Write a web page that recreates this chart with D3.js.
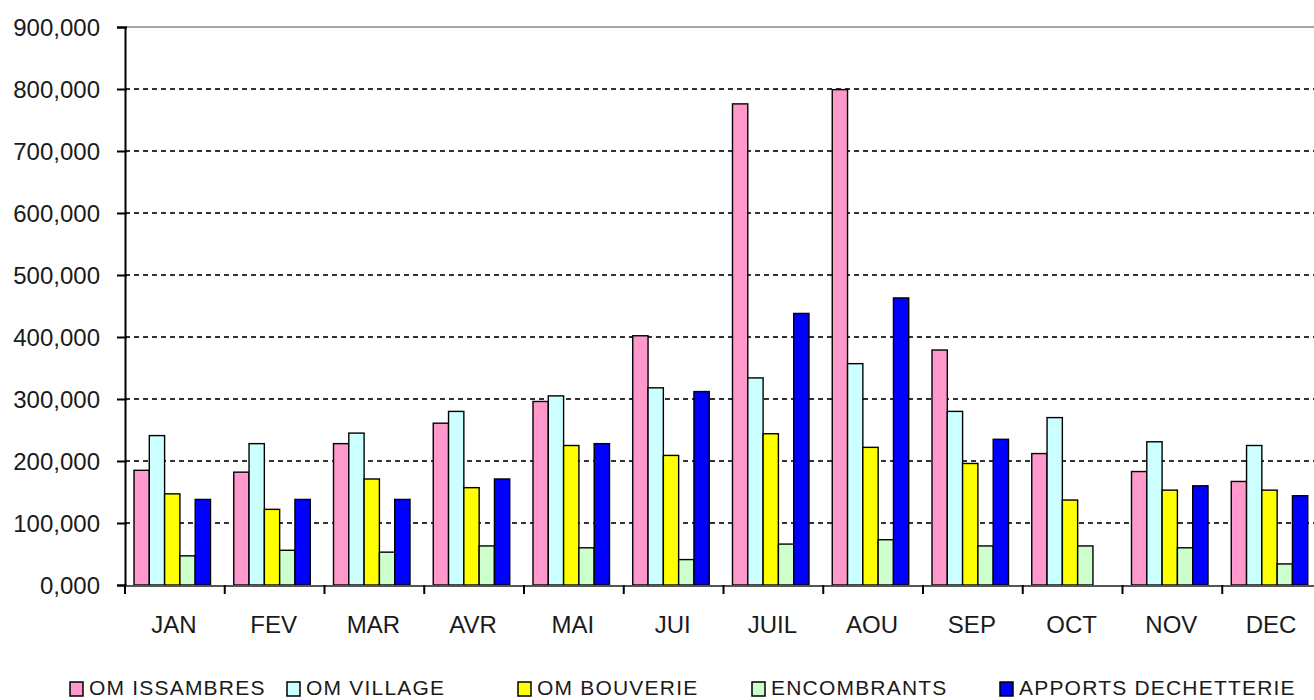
<!DOCTYPE html>
<html>
<head>
<meta charset="utf-8">
<script src="https://cdn.jsdelivr.net/npm/d3@7"></script>
<style>
  html, body { margin: 0; padding: 0; background: #fff; }
  svg { display: block; }
  text { font-family: "Liberation Sans", Arial, sans-serif; fill: #1a1a1a; }
</style>
</head>
<body>
<svg id="chart" width="1314" height="700"></svg>
<script>
// ---- data ----
const months = ["JAN","FEV","MAR","AVR","MAI","JUI","JUIL","AOU","SEP","OCT","NOV","DEC"];
const seriesNames = ["OM ISSAMBRES","OM VILLAGE","OM BOUVERIE","ENCOMBRANTS","APPORTS DECHETTERIE"];
const seriesColors = ["#FF99CC","#CCFFFF","#FFFF00","#CCFFCC","#0000FF"];
const omIssambres = [185, 182, 228, 261, 296, 402, 776, 799, 379, 212, 183, 167];
const omVillage   = [241, 228, 245, 280, 305, 318, 334, 357, 280, 270, 231, 225];
const omBouverie  = [147, 122, 171, 157, 225, 209, 244, 222, 196, 137, 153, 153];
const encombrants = [47, 56, 53, 63, 60, 41, 66, 73, 63, 63, 60, 34];
const apports     = [138, 138, 138, 171, 228, 312, 438, 463, 235, null, 160, 144];
const yTicks = [0,100,200,300,400,500,600,700,800,900];

const seriesValues = [omIssambres, omVillage, omBouverie, encombrants, apports];

const svg = d3.select("#chart");

const y = d3.scaleLinear().domain([0, 900]).range([585, 27]);
const x0 = d3.scaleBand().domain(months).range([125, 1322]).padding(0);
const x1 = d3.scaleBand().domain(seriesNames).range([0, 76.5]).padding(0);
const groupOffset = 9;

// gridlines
svg.append("g").selectAll("line")
  .data(yTicks.filter(t => t > 0 && t < 900))
  .join("line")
  .attr("x1", 125).attr("x2", 1314)
  .attr("y1", d => y(d)).attr("y2", d => y(d))
  .attr("stroke", "#333").attr("stroke-width", 2)
  .attr("stroke-dasharray", "5,4");

// top border
svg.append("line")
  .attr("x1", 125).attr("x2", 1314)
  .attr("y1", y(900)).attr("y2", y(900))
  .attr("stroke", "#8a8a8a").attr("stroke-width", 1.5);

// bars
const bars = [];
months.forEach((m, i) => {
  seriesNames.forEach((s, j) => {
    const v = seriesValues[j][i];
    if (v != null && v > 0) bars.push({ m, s, v, c: seriesColors[j] });
  });
});
svg.append("g").selectAll("rect")
  .data(bars)
  .join("rect")
  .attr("x", d => x0(d.m) + groupOffset + x1(d.s))
  .attr("y", d => y(d.v))
  .attr("width", x1.bandwidth())
  .attr("height", d => y(0) - y(d.v))
  .attr("fill", d => d.c)
  .attr("stroke", "#000")
  .attr("stroke-width", 1.4);

// y axis
const yAxis = d3.axisLeft(y).tickValues(yTicks).tickSize(8).tickPadding(16)
  .tickFormat(d => d3.format(".3f")(d * 1).replace(".", ","));
const gy = svg.append("g").attr("transform", "translate(125,0)").call(yAxis);
gy.select(".domain").attr("stroke", "#000").attr("stroke-width", 2);
gy.selectAll(".tick line").attr("stroke", "#000").attr("stroke-width", 2).attr("x2", -8).attr("x1", 2);
gy.selectAll(".tick text")
  .style("font-family", "'Liberation Sans', Arial, sans-serif")
  .style("font-size", "24px").attr("fill", "#1a1a1a")
  .attr("x", -25).attr("dy", "0.35em");

// x axis
const boundaries = d3.range(0, 13).map(k => 125 + k * x0.step());
svg.append("line").attr("x1", 125).attr("x2", 1314)
  .attr("y1", 586).attr("y2", 586).attr("stroke", "#555").attr("stroke-width", 2);
svg.append("g").selectAll("line").data(boundaries.filter(b => b <= 1314)).join("line")
  .attr("x1", d => d).attr("x2", d => d).attr("y1", 585).attr("y2", 594)
  .attr("stroke", "#000").attr("stroke-width", 2);
svg.append("g").selectAll("text").data(months).join("text")
  .attr("x", d => x0(d) + x0.bandwidth() / 2 - 1)
  .attr("y", 633)
  .attr("text-anchor", "middle")
  .style("font-size", "24px")
  .text(d => d);

// legend
const legendX = [70, 287, 518, 752, 1000];
const lg = svg.append("g").selectAll("g").data(seriesNames).join("g")
  .attr("transform", (d, i) => `translate(${legendX[i]},0)`);
lg.append("rect").attr("x", 0).attr("y", 682).attr("width", 13).attr("height", 14)
  .attr("fill", (d, i) => seriesColors[i]).attr("stroke", "#000").attr("stroke-width", 1.5);
lg.append("text").attr("x", 19).attr("y", 695)
  .style("font-size", "21px").style("letter-spacing", "1.2px").text(d => d);
</script>
</body>
</html>
